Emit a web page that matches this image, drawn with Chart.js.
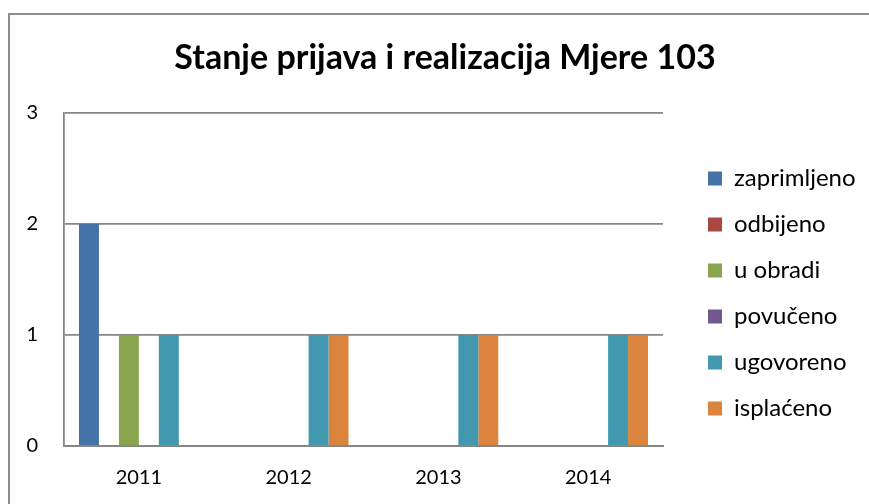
<!DOCTYPE html>
<html>
<head>
<meta charset="utf-8">
<script src="https://cdn.jsdelivr.net/npm/chart.js@4"></script>
<style>
  html, body { margin: 0; padding: 0; background: #fff; overflow: hidden; }
  canvas { display: block; }
</style>
</head>
<body>
<canvas id="c" width="869" height="504"></canvas>
<script>
const categories = ["2011", "2012", "2013", "2014"];
const seriesNames = ["zaprimljeno", "odbijeno", "u obradi", "povučeno", "ugovoreno", "isplaćeno"];
const zaprimljeno = [2, 0, 0, 0];
const odbijeno = [0, 0, 0, 0];
const uObradi = [1, 0, 0, 0];
const povuceno = [0, 0, 0, 0];
const ugovoreno = [1, 1, 1, 1];
const isplaceno = [0, 1, 1, 1];
const yTicks = [0, 1, 2, 3];
const titleText = "Stanje prijava i realizacija Mjere 103";

const colors = ["#4572A7", "#AA4643", "#89A54E", "#71588F", "#4198AF", "#DB843D"];
const values = [zaprimljeno, odbijeno, uObradi, povuceno, ugovoreno, isplaceno];
const FONT = "Lato, 'Open Sans', 'Liberation Sans', sans-serif";

// layout targets
const W = 869, H = 504;
const AREA_LEFT = 64, AREA_RIGHT = 663, AREA_BOTTOM = 446;
const LEG_FONT = 24, LEG_PAD = 22, LEG_BOX = 14, LEG_BOX_X = 708;
const TITLE_CX = 445;

const mctx = document.createElement('canvas').getContext('2d');
mctx.font = LEG_FONT + "px " + FONT;
const maxText = Math.max(...seriesNames.map(s => mctx.measureText(s).width));
const legendW = LEG_PAD + LEG_BOX + LEG_FONT / 2 + maxText + 10;
const gapW = LEG_BOX_X - AREA_RIGHT - LEG_PAD;
const padR = Math.max(0, W - AREA_RIGHT - gapW - legendW);
const padL = Math.min(26, Math.max(0, 2 * TITLE_CX - W + padR));

const frame = {
  id: 'frame',
  beforeDraw(chart) {
    const ctx = chart.ctx;
    ctx.save();
    ctx.fillStyle = '#fff';
    ctx.fillRect(0, 0, chart.width, chart.height);
    ctx.strokeStyle = '#8c8c8c';
    ctx.lineWidth = 2;
    ctx.strokeRect(9, 14, 900, 600);
    ctx.restore();
  }
};

new Chart(document.getElementById('c'), {
  type: 'bar',
  data: {
    labels: categories,
    datasets: seriesNames.map((n, i) => ({
      label: n,
      data: values[i],
      backgroundColor: colors[i],
      borderWidth: 0,
      categoryPercentage: 0.8,
      barPercentage: 1.0
    }))
  },
  options: {
    responsive: false,
    devicePixelRatio: 1,
    animation: false,
    layout: { padding: { left: padL, top: 14, right: padR, bottom: 0 } },
    plugins: {
      title: {
        display: true,
        text: titleText,
        color: '#000',
        font: { family: FONT, size: 34, weight: 'bold' },
        padding: { top: 23.6, bottom: 34.6 }
      },
      legend: {
        position: 'right',
        align: 'center',
        fullSize: false,
        maxWidth: 400,
        title: { display: true, text: '', font: { size: 10 }, padding: { top: 16, bottom: 0 } },
        labels: {
          boxWidth: LEG_BOX,
          boxHeight: LEG_BOX,
          padding: LEG_PAD,
          color: '#000',
          font: { family: FONT, size: LEG_FONT }
        }
      },
      tooltip: { enabled: false }
    },
    scales: {
      x: {
        grid: { display: false, drawTicks: false },
        border: { display: true, color: '#868686', width: 2 },
        ticks: { color: '#000', font: { family: FONT, size: 20 }, padding: 20 },
        afterFit(scale) { scale.height = H - AREA_BOTTOM; }
      },
      y: {
        min: 0,
        max: 3,
        afterBuildTicks(scale) { scale.ticks = yTicks.map(v => ({ value: v })); },
        afterFit(scale) { scale.width = AREA_LEFT - padL; },
        grid: { color: '#868686', lineWidth: 1.8, drawTicks: false },
        border: { display: true, color: '#868686', width: 1.8 },
        ticks: { color: '#000', font: { family: FONT, size: 20 }, padding: 26 }
      },
      gap: {
        type: 'linear',
        position: 'right',
        display: true,
        grid: { display: false, drawTicks: false },
        border: { display: false },
        ticks: { display: false },
        afterFit(scale) { scale.width = gapW; }
      }
    }
  },
  plugins: [frame]
});
</script>
</body>
</html>
